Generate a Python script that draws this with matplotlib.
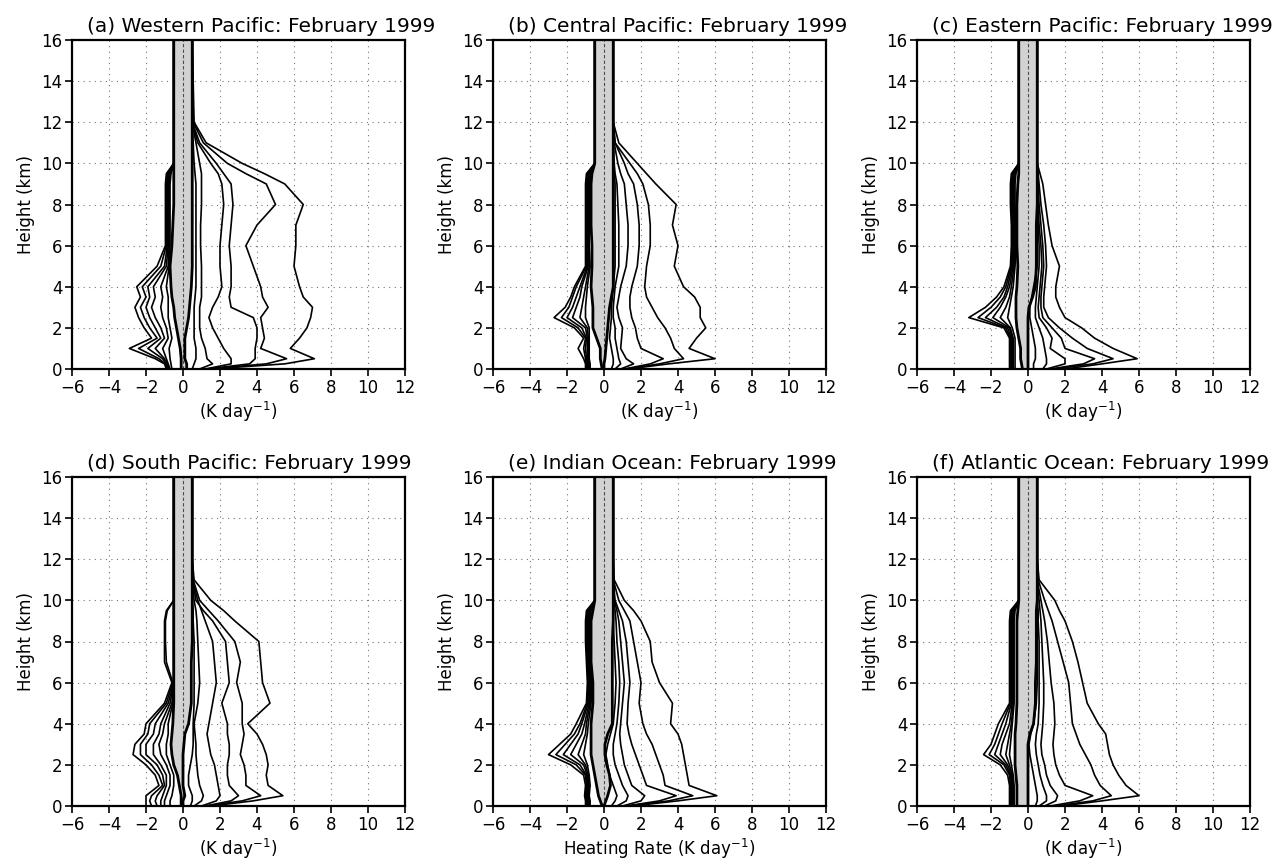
import matplotlib
matplotlib.use("Agg")
import matplotlib.pyplot as plt

plt.rcParams['font.family'] = ['DejaVu Sans']

heights = [0, 0.25, 0.5, 1, 1.5, 2, 2.5, 3, 3.5, 4, 5, 6, 7, 8, 9, 9.5, 10, 11, 12, 16]

# ---- (a) Western Pacific ----
a_right = [
    [1.5, 5.5, 7.1, 5.8, 6.3, 6.7, 6.9, 7.0, 6.5, 6.3, 6.0, 6.1, 6.1, 6.5, 5.5, 4.4, 3.2, 1.25, 0.6, 0.5],
    [1.4, 4.5, 5.6, 4.2, 4.4, 4.3, 4.2, 4.6, 4.3, 4.2, 3.8, 3.4, 4.0, 5.0, 4.5, 3.4, 2.4, 1.1, 0.55, 0.5],
    [1.3, 3.6, 3.9, 3.9, 4.0, 4.0, 3.8, 2.6, 2.5, 2.6, 2.6, 2.5, 2.6, 2.7, 2.6, 2.2, 1.8, 0.9, 0.5, 0.5],
    [1.2, 2.6, 2.6, 2.2, 1.9, 1.6, 1.4, 1.6, 1.9, 2.1, 2.0, 2.0, 2.1, 2.2, 2.1, 1.9, 1.5, 0.8, 0.5, 0.5],
    [0.9, 1.6, 1.3, 1.2, 1.0, 0.9, 0.9, 0.9, 1.0, 1.0, 1.0, 0.95, 0.95, 1.0, 1.0, 1.0, 0.9, 0.7, 0.5, 0.5],
    [0.5, 0.6, 0.7, 0.7, 0.6, 0.6, 0.6, 0.6, 0.65, 0.7, 0.7, 0.7, 0.7, 0.7, 0.7, 0.65, 0.6, 0.55, 0.5, 0.5],
]
a_left = [
    [-0.9, -1.0, -1.5, -2.9, -1.7, -2.1, -2.4, -2.6, -2.3, -2.5, -1.4, -0.95, -0.95, -0.95, -0.95, -0.9, -0.5, -0.5, -0.5, -0.5],
    [-0.85, -0.95, -1.3, -2.4, -1.4, -1.8, -2.1, -2.3, -2.0, -2.2, -1.2, -0.9, -0.9, -0.9, -0.9, -0.85, -0.5, -0.5, -0.5, -0.5],
    [-0.8, -0.9, -1.1, -1.9, -1.2, -1.5, -1.8, -2.0, -1.8, -1.9, -1.0, -0.85, -0.85, -0.85, -0.85, -0.8, -0.5, -0.5, -0.5, -0.5],
    [-0.75, -0.85, -1.0, -1.5, -1.0, -1.2, -1.5, -1.7, -1.5, -1.6, -0.9, -0.8, -0.8, -0.8, -0.8, -0.75, -0.5, -0.5, -0.5, -0.5],
    [-0.7, -0.8, -0.9, -1.1, -0.8, -0.9, -1.1, -1.2, -1.1, -1.2, -0.8, -0.75, -0.75, -0.75, -0.75, -0.7, -0.5, -0.5, -0.5, -0.5],
    [-0.6, -0.65, -0.7, -0.75, -0.6, -0.7, -0.8, -0.8, -0.8, -0.9, -0.75, -0.7, -0.7, -0.7, -0.7, -0.65, -0.5, -0.5, -0.5, -0.5],
]
a_core_l = [-0.1, -0.1, -0.1, -0.15, -0.25, -0.35, -0.45, -0.5, -0.6, -0.65, -0.7, -0.6, -0.55, -0.5, -0.5, -0.5, -0.5, -0.5, -0.5, -0.5]
a_core_r = [0.2, 0.2, 0.1, 0.1, 0.1, 0.2, 0.3, 0.35, 0.4, 0.45, 0.5, 0.5, 0.5, 0.5, 0.5, 0.5, 0.5, 0.5, 0.5, 0.5]

# ---- (b) Central Pacific ----
b_right = [
    [1.3, 3.5, 6.0, 4.6, 5.0, 5.5, 5.2, 5.2, 4.9, 4.3, 3.8, 4.0, 3.7, 3.9, 2.8, 2.3, 1.8, 0.8, 0.5, 0.5],
    [1.2, 3.0, 4.3, 3.8, 3.6, 3.3, 2.9, 2.6, 2.3, 2.2, 2.3, 2.5, 2.5, 2.4, 2.1, 1.8, 1.4, 0.6, 0.5, 0.5],
    [1.1, 2.5, 3.2, 2.0, 1.8, 1.7, 1.5, 1.4, 1.4, 1.5, 1.8, 1.9, 1.9, 1.8, 1.6, 1.3, 1.1, 0.6, 0.5, 0.5],
    [0.9, 1.6, 1.2, 0.9, 0.95, 1.0, 0.8, 0.7, 0.8, 0.9, 1.2, 1.3, 1.3, 1.2, 1.1, 0.9, 0.75, 0.55, 0.5, 0.5],
    [0.6, 0.9, 0.8, 0.7, 0.6, 0.6, 0.5, 0.5, 0.55, 0.6, 0.8, 0.8, 0.8, 0.75, 0.7, 0.6, 0.55, 0.5, 0.5, 0.5],
    [0.4, 0.5, 0.5, 0.4, 0.3, 0.35, 0.4, 0.4, 0.45, 0.5, 0.6, 0.6, 0.6, 0.6, 0.6, 0.55, 0.5, 0.5, 0.5, 0.5],
]
b_left = [
    [-1.0, -1.0, -1.1, -1.4, -1.1, -1.6, -2.7, -2.1, -1.8, -1.6, -1.0, -1.0, -1.0, -1.0, -1.0, -0.95, -0.5, -0.5, -0.5, -0.5],
    [-0.95, -0.95, -1.0, -1.1, -1.0, -1.4, -2.3, -1.9, -1.7, -1.5, -0.95, -0.95, -0.95, -0.95, -0.95, -0.9, -0.5, -0.5, -0.5, -0.5],
    [-0.9, -0.9, -0.95, -1.0, -0.95, -1.2, -2.0, -1.7, -1.5, -1.3, -0.9, -0.9, -0.9, -0.9, -0.9, -0.85, -0.5, -0.5, -0.5, -0.5],
    [-0.85, -0.85, -0.9, -0.9, -0.9, -1.0, -1.7, -1.5, -1.3, -1.2, -0.85, -0.85, -0.85, -0.85, -0.85, -0.8, -0.5, -0.5, -0.5, -0.5],
    [-0.8, -0.8, -0.85, -0.85, -0.85, -0.9, -1.3, -1.2, -1.1, -1.0, -0.8, -0.85, -0.85, -0.8, -0.8, -0.75, -0.5, -0.5, -0.5, -0.5],
    [-0.75, -0.75, -0.8, -0.8, -0.8, -0.8, -1.0, -1.0, -0.95, -0.9, -0.75, -0.8, -0.8, -0.75, -0.75, -0.7, -0.5, -0.5, -0.5, -0.5],
]
b_core_l = [-0.1, -0.15, -0.2, -0.2, -0.4, -0.6, -0.6, -0.6, -0.65, -0.7, -0.65, -0.65, -0.7, -0.7, -0.7, -0.65, -0.5, -0.5, -0.5, -0.5]
b_core_r = [0.0, 0.0, 0.05, 0.1, 0.15, 0.2, 0.25, 0.3, 0.4, 0.5, 0.5, 0.5, 0.5, 0.5, 0.5, 0.5, 0.5, 0.5, 0.5, 0.5]

# ---- (c) Eastern Pacific ----
c_right = [
    [2.0, 4.0, 5.9, 4.6, 3.6, 2.9, 2.0, 1.7, 1.5, 1.5, 1.7, 1.3, 1.1, 0.95, 0.8, 0.65, 0.5, 0.5, 0.5, 0.5],
    [1.5, 3.5, 4.6, 3.2, 2.4, 1.7, 1.1, 0.85, 0.85, 0.9, 1.0, 0.95, 0.85, 0.7, 0.6, 0.55, 0.5, 0.5, 0.5, 0.5],
    [1.2, 3.0, 3.6, 2.0, 1.8, 1.3, 0.8, 0.7, 0.7, 0.75, 0.85, 0.8, 0.7, 0.6, 0.55, 0.5, 0.5, 0.5, 0.5, 0.5],
    [1.0, 2.0, 2.0, 1.2, 1.3, 1.0, 0.6, 0.55, 0.6, 0.65, 0.75, 0.7, 0.6, 0.55, 0.5, 0.5, 0.5, 0.5, 0.5, 0.5],
    [0.8, 1.0, 1.0, 0.9, 0.8, 0.6, 0.4, 0.4, 0.45, 0.5, 0.6, 0.6, 0.55, 0.5, 0.5, 0.5, 0.5, 0.5, 0.5, 0.5],
    [0.3, 0.3, 0.4, 0.4, 0.3, 0.2, 0.1, 0.1, 0.2, 0.3, 0.5, 0.5, 0.5, 0.5, 0.5, 0.5, 0.5, 0.5, 0.5, 0.5],
]
c_left = [
    [-1.0, -1.0, -1.0, -1.0, -1.0, -1.3, -3.2, -2.3, -1.7, -1.3, -0.95, -0.9, -0.9, -0.95, -0.95, -0.9, -0.5, -0.5, -0.5, -0.5],
    [-0.95, -0.95, -0.95, -0.95, -0.95, -1.2, -2.7, -2.0, -1.5, -1.2, -0.9, -0.85, -0.85, -0.9, -0.9, -0.85, -0.5, -0.5, -0.5, -0.5],
    [-0.9, -0.9, -0.9, -0.9, -0.9, -1.1, -2.3, -1.7, -1.3, -1.1, -0.85, -0.8, -0.8, -0.85, -0.85, -0.8, -0.5, -0.5, -0.5, -0.5],
    [-0.85, -0.85, -0.85, -0.85, -0.85, -1.0, -1.9, -1.5, -1.2, -1.0, -0.8, -0.75, -0.75, -0.8, -0.8, -0.75, -0.5, -0.5, -0.5, -0.5],
    [-0.8, -0.8, -0.8, -0.8, -0.8, -0.95, -1.5, -1.2, -1.0, -0.9, -0.75, -0.7, -0.7, -0.75, -0.75, -0.7, -0.5, -0.5, -0.5, -0.5],
    [-0.7, -0.7, -0.7, -0.7, -0.7, -0.85, -1.1, -1.0, -0.9, -0.8, -0.7, -0.65, -0.65, -0.7, -0.7, -0.65, -0.5, -0.5, -0.5, -0.5],
]
c_core_l = [-0.3, -0.35, -0.4, -0.4, -0.5, -0.6, -0.65, -0.65, -0.65, -0.6, -0.55, -0.6, -0.6, -0.6, -0.55, -0.5, -0.5, -0.5, -0.5, -0.5]
c_core_r = [0.0, 0.0, 0.0, 0.0, 0.0, 0.0, 0.0, 0.05, 0.25, 0.4, 0.45, 0.45, 0.45, 0.5, 0.5, 0.5, 0.5, 0.5, 0.5, 0.5]

# ---- (d) South Pacific ----
d_right = [
    [1.5, 3.8, 5.4, 4.6, 4.5, 4.6, 4.5, 4.3, 4.0, 3.5, 4.7, 4.3, 4.2, 4.1, 2.8, 2.2, 1.5, 0.6, 0.5, 0.5],
    [1.3, 3.2, 4.2, 3.4, 3.4, 3.3, 3.1, 3.2, 3.3, 3.2, 3.2, 2.9, 3.1, 2.8, 1.9, 1.4, 0.9, 0.55, 0.5, 0.5],
    [1.2, 2.6, 3.0, 2.5, 2.4, 2.4, 2.5, 2.5, 2.4, 2.4, 2.1, 2.5, 2.4, 2.3, 1.6, 1.1, 0.7, 0.5, 0.5, 0.5],
    [1.0, 1.8, 2.0, 1.9, 1.8, 1.7, 1.5, 1.4, 1.3, 1.4, 1.6, 1.8, 1.7, 1.6, 1.2, 1.0, 0.8, 0.5, 0.5, 0.5],
    [0.6, 1.0, 1.1, 0.9, 0.8, 0.75, 0.7, 0.7, 0.65, 0.6, 0.8, 0.9, 0.85, 0.8, 0.75, 0.7, 0.6, 0.5, 0.5, 0.5],
    [0.4, 0.5, 0.5, 0.3, 0.3, 0.4, 0.5, 0.55, 0.55, 0.55, 0.6, 0.6, 0.6, 0.6, 0.55, 0.55, 0.5, 0.5, 0.5, 0.5],
]
d_left = [
    [-2.0, -2.0, -2.0, -1.3, -1.5, -2.0, -2.7, -2.6, -2.1, -2.0, -1.0, -0.6, -1.0, -1.0, -1.0, -0.9, -0.5, -0.5, -0.5, -0.5],
    [-1.7, -1.8, -1.7, -1.1, -1.3, -1.7, -2.3, -2.3, -1.9, -1.8, -0.9, -0.55, -0.9, -0.95, -0.95, -0.85, -0.5, -0.5, -0.5, -0.5],
    [-1.4, -1.5, -1.4, -1.0, -1.1, -1.4, -2.0, -2.0, -1.6, -1.5, -0.8, -0.5, -0.5, -0.5, -0.5, -0.5, -0.5, -0.5, -0.5, -0.5],
    [-1.2, -1.2, -1.1, -0.9, -0.9, -1.2, -1.6, -1.6, -1.3, -1.2, -0.7, -0.5, -0.5, -0.5, -0.5, -0.5, -0.5, -0.5, -0.5, -0.5],
    [-1.0, -1.0, -0.9, -0.7, -0.7, -0.9, -1.2, -1.3, -1.1, -1.0, -0.6, -0.5, -0.5, -0.5, -0.5, -0.5, -0.5, -0.5, -0.5, -0.5],
    [-0.7, -0.7, -0.6, -0.5, -0.5, -0.7, -0.9, -0.9, -0.8, -0.8, -0.55, -0.5, -0.5, -0.5, -0.5, -0.5, -0.5, -0.5, -0.5, -0.5],
]
d_core_l = [-0.1, -0.1, -0.1, -0.2, -0.3, -0.5, -0.6, -0.65, -0.6, -0.55, -0.5, -0.5, -0.5, -0.5, -0.5, -0.5, -0.5, -0.5, -0.5, -0.5]
d_core_r = [0.0, 0.0, 0.1, 0.0, 0.0, 0.0, 0.0, 0.05, 0.1, 0.3, 0.45, 0.45, 0.45, 0.5, 0.5, 0.5, 0.5, 0.5, 0.5, 0.5]

# ---- (e) Indian Ocean ----
e_right = [
    [1.5, 4.0, 6.1, 4.6, 4.5, 4.4, 4.3, 4.2, 4.0, 3.6, 3.7, 3.0, 2.6, 2.5, 2.0, 1.6, 1.1, 0.55, 0.5, 0.5],
    [1.3, 3.5, 4.8, 3.3, 3.2, 3.0, 2.8, 2.6, 2.3, 2.1, 1.9, 2.0, 1.8, 1.6, 1.4, 1.1, 0.8, 0.5, 0.5, 0.5],
    [1.2, 3.0, 3.9, 2.3, 2.1, 1.9, 1.7, 1.5, 1.35, 1.25, 1.3, 1.4, 1.3, 1.2, 1.0, 0.8, 0.6, 0.5, 0.5, 0.5],
    [1.0, 2.0, 2.2, 1.5, 1.3, 1.1, 1.0, 0.9, 0.85, 0.9, 1.0, 1.1, 1.0, 0.9, 0.8, 0.7, 0.55, 0.5, 0.5, 0.5],
    [0.7, 1.2, 1.3, 1.0, 0.8, 0.6, 0.5, 0.5, 0.6, 0.7, 0.8, 0.85, 0.8, 0.7, 0.65, 0.6, 0.5, 0.5, 0.5, 0.5],
    [0.4, 0.6, 0.7, 0.5, 0.3, 0.2, 0.1, 0.2, 0.35, 0.5, 0.6, 0.65, 0.6, 0.55, 0.5, 0.5, 0.5, 0.5, 0.5, 0.5],
]
e_left = [
    [-1.0, -1.0, -1.05, -1.0, -1.1, -1.8, -3.0, -2.4, -1.8, -1.5, -0.95, -0.9, -0.95, -1.0, -1.0, -0.95, -0.5, -0.5, -0.5, -0.5],
    [-0.95, -0.95, -1.0, -0.95, -1.0, -1.5, -2.6, -2.1, -1.6, -1.3, -0.9, -0.85, -0.9, -0.95, -0.95, -0.9, -0.5, -0.5, -0.5, -0.5],
    [-0.9, -0.9, -0.95, -0.9, -0.95, -1.3, -2.2, -1.8, -1.4, -1.2, -0.85, -0.8, -0.85, -0.9, -0.9, -0.85, -0.5, -0.5, -0.5, -0.5],
    [-0.85, -0.85, -0.9, -0.85, -0.9, -1.1, -1.8, -1.5, -1.2, -1.05, -0.8, -0.75, -0.8, -0.85, -0.85, -0.8, -0.5, -0.5, -0.5, -0.5],
    [-0.8, -0.8, -0.85, -0.8, -0.85, -1.0, -1.4, -1.2, -1.0, -0.95, -0.75, -0.7, -0.75, -0.8, -0.8, -0.75, -0.5, -0.5, -0.5, -0.5],
    [-0.75, -0.75, -0.8, -0.75, -0.8, -0.9, -1.1, -1.0, -0.9, -0.85, -0.7, -0.65, -0.7, -0.75, -0.75, -0.7, -0.5, -0.5, -0.5, -0.5],
]
e_core_l = [-0.1, -0.2, -0.3, -0.4, -0.5, -0.6, -0.7, -0.7, -0.7, -0.7, -0.6, -0.6, -0.7, -0.7, -0.7, -0.6, -0.5, -0.5, -0.5, -0.5]
e_core_r = [0.0, 0.1, 0.2, 0.35, 0.3, 0.15, 0.05, 0.05, 0.2, 0.45, 0.45, 0.45, 0.45, 0.45, 0.5, 0.5, 0.5, 0.5, 0.5, 0.5]

# ---- (f) Atlantic Ocean ----
f_right = [
    [1.8, 4.0, 6.0, 5.3, 4.9, 4.6, 4.4, 4.3, 4.2, 3.8, 3.2, 2.95, 2.7, 2.4, 2.0, 1.7, 1.45, 0.6, 0.5, 0.5],
    [1.5, 3.5, 4.5, 3.9, 3.6, 3.4, 3.1, 2.8, 2.6, 2.4, 2.3, 2.2, 1.9, 1.6, 1.3, 1.1, 0.9, 0.55, 0.5, 0.5],
    [1.2, 2.8, 3.5, 2.0, 1.7, 1.5, 1.4, 1.35, 1.4, 1.45, 1.4, 1.25, 1.15, 1.05, 0.9, 0.8, 0.7, 0.5, 0.5, 0.5],
    [0.9, 1.5, 1.6, 1.2, 1.0, 0.9, 0.75, 0.7, 0.75, 0.8, 0.85, 0.85, 0.8, 0.75, 0.7, 0.65, 0.6, 0.5, 0.5, 0.5],
    [0.6, 1.0, 1.0, 0.8, 0.65, 0.55, 0.45, 0.4, 0.45, 0.55, 0.6, 0.6, 0.6, 0.6, 0.55, 0.55, 0.5, 0.5, 0.5, 0.5],
    [0.4, 0.5, 0.5, 0.4, 0.3, 0.2, 0.1, 0.05, 0.15, 0.3, 0.45, 0.5, 0.5, 0.5, 0.5, 0.5, 0.5, 0.5, 0.5, 0.5],
]
f_left = [
    [-1.0, -1.0, -1.0, -1.0, -1.1, -1.5, -2.4, -2.0, -1.8, -1.6, -1.0, -1.0, -1.0, -1.0, -1.0, -0.95, -0.5, -0.5, -0.5, -0.5],
    [-0.95, -0.95, -0.95, -0.95, -1.0, -1.3, -2.1, -1.8, -1.6, -1.4, -0.95, -0.95, -0.95, -0.95, -0.95, -0.9, -0.5, -0.5, -0.5, -0.5],
    [-0.9, -0.9, -0.9, -0.9, -0.95, -1.2, -1.8, -1.6, -1.4, -1.2, -0.9, -0.9, -0.9, -0.9, -0.9, -0.85, -0.5, -0.5, -0.5, -0.5],
    [-0.85, -0.85, -0.85, -0.85, -0.9, -1.1, -1.5, -1.4, -1.2, -1.0, -0.85, -0.85, -0.85, -0.85, -0.85, -0.8, -0.5, -0.5, -0.5, -0.5],
    [-0.8, -0.8, -0.8, -0.8, -0.85, -1.0, -1.2, -1.1, -1.0, -0.9, -0.8, -0.8, -0.8, -0.8, -0.8, -0.75, -0.5, -0.5, -0.5, -0.5],
    [-0.75, -0.75, -0.75, -0.75, -0.8, -0.9, -1.0, -0.95, -0.9, -0.85, -0.75, -0.75, -0.75, -0.75, -0.75, -0.7, -0.5, -0.5, -0.5, -0.5],
]
f_core_l = [-0.6, -0.6, -0.6, -0.6, -0.65, -0.7, -0.7, -0.7, -0.7, -0.65, -0.6, -0.6, -0.6, -0.6, -0.6, -0.55, -0.5, -0.5, -0.5, -0.5]
f_core_r = [0.0, 0.0, 0.0, 0.0, 0.0, 0.0, 0.0, 0.0, 0.1, 0.3, 0.4, 0.4, 0.45, 0.45, 0.45, 0.45, 0.5, 0.5, 0.5, 0.5]

titles = ['(a) Western Pacific: February 1999', '(b) Central Pacific: February 1999',
          '(c) Eastern Pacific: February 1999', '(d) South Pacific: February 1999',
          '(e) Indian Ocean: February 1999', '(f) Atlantic Ocean: February 1999']
xlabels = ['(K day$^{-1}$)', '(K day$^{-1}$)', '(K day$^{-1}$)',
           '(K day$^{-1}$)', 'Heating Rate (K day$^{-1}$)', '(K day$^{-1}$)']

panels = [(a_right, a_left, a_core_l, a_core_r), (b_right, b_left, b_core_l, b_core_r),
          (c_right, c_left, c_core_l, c_core_r), (d_right, d_left, d_core_l, d_core_r),
          (e_right, e_left, e_core_l, e_core_r), (f_right, f_left, f_core_l, f_core_r)]

W, H = 1277, 861
fig = plt.figure(figsize=(W / 100, H / 100), dpi=100)
lefts = [72, 493, 917]
tops = [40, 477]
aw, ah = 333, 329

for i, (right, left, core_l, core_r) in enumerate(panels):
    r, c = divmod(i, 3)
    ax = fig.add_axes([lefts[c] / W, 1 - (tops[r] + ah) / H, aw / W, ah / H])

    ax.fill_betweenx(heights, core_l, core_r, color='#d2d2d2', lw=0, zorder=1)
    ax.axvline(0, color='0.3', lw=0.8, ls=(0, (3, 2)), zorder=2)
    for xs in right + left:
        ax.plot(xs, heights, color='k', lw=1.2, zorder=3)
    ax.plot(core_l, heights, color='k', lw=2.0, zorder=4)
    ax.plot(core_r, heights, color='k', lw=2.0, zorder=4)

    ax.set_xlim(-6, 12)
    ax.set_ylim(0, 16)
    ax.set_xticks(range(-6, 13, 2))
    ax.set_yticks(range(0, 17, 2))
    ax.grid(True, color='0.45', lw=0.8, ls=(0, (1, 4)), zorder=0)
    ax.set_axisbelow(True)
    ax.tick_params(direction='out', length=5, width=1.2, labelsize=12, pad=2)
    for s in ax.spines.values():
        s.set_linewidth(1.6)
    ax.set_ylabel('Height (km)', fontsize=12, labelpad=4)
    ax.set_xlabel(xlabels[i], fontsize=12, labelpad=2)
    ax.text(0.045, 1.012, titles[i], transform=ax.transAxes, ha='left', va='bottom', fontsize=14.5)

fig.savefig('out.png', dpi=100)
